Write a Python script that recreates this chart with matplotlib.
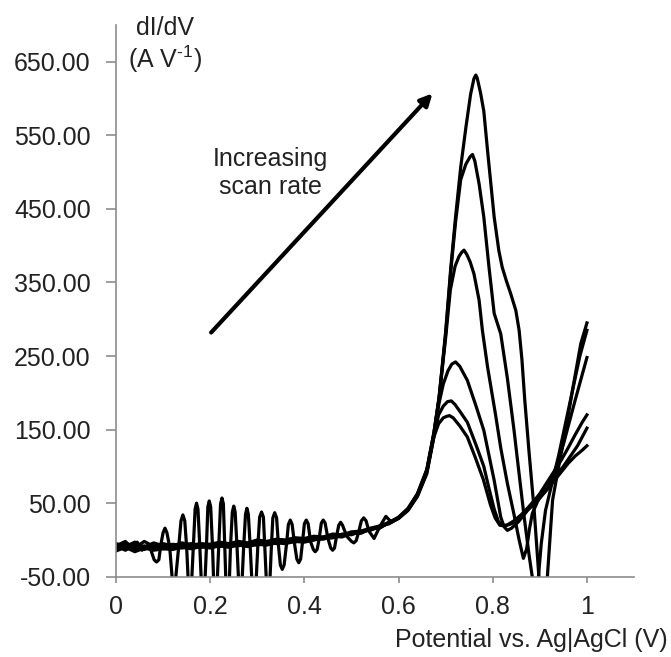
import numpy as np
import matplotlib
matplotlib.use("Agg")
import matplotlib.pyplot as plt
from matplotlib.ticker import FuncFormatter

plt.rcParams['font.family'] = ['Liberation Sans', 'DejaVu Sans']
plt.rcParams['axes.unicode_minus'] = False
plt.rcParams['mathtext.fontset'] = 'custom'
plt.rcParams['mathtext.rm'] = 'Liberation Sans'

# shared baseline grid (V)
x_base = [0.00, 0.02, 0.04, 0.06, 0.08, 0.10, 0.12, 0.14, 0.16, 0.18,
          0.20, 0.22, 0.24, 0.26, 0.28, 0.30, 0.32, 0.34, 0.36, 0.38,
          0.40, 0.42, 0.44, 0.46, 0.48, 0.50, 0.52, 0.54, 0.56, 0.58]

base_c1 = [-12, -6, -14, -8, -13, -9, -12, -8, -11, -9, -10, -7, -9, -6, -8,
           -5, -6, -3, -4, -1, -2, 2, 1, 5, 4, 9, 10, 15, 17, 23]
base_c2 = [-8, -14, -7, -13, -8, -12, -9, -11, -8, -10, -7, -9, -6, -8, -5,
           -7, -3, -5, -1, -3, 1, 0, 4, 3, 8, 7, 12, 13, 19, 22]
base_c3 = [-5, -9, -3, -10, -4, -8, -6, -7, -5, -8, -6, -5, -7, -4, -5,
           -3, -4, -1, -2, 1, 0, 3, 2, 6, 5, 10, 9, 15, 16, 24]
base_c4 = [-15, -10, -16, -11, -14, -12, -13, -10, -12, -9, -11, -8, -10, -7, -9,
           -6, -7, -4, -5, -2, -3, 0, 2, 3, 6, 8, 11, 14, 18, 23]
base_c5 = [-10, -3, -11, -2, -9, -5, -8, -4, -7, -5, -6, -3, -5, -2, -4,
           0, -2, 1, 0, 3, 2, 5, 4, 8, 7, 11, 12, 16, 19, 24]

# noisy low-potential part of the slowest scan
x_osc = [0.00, 0.02, 0.03, 0.045, 0.055, 0.07,
         0.081, 0.086, 0.091, 0.095, 0.100, 0.104, 0.108, 0.114,
         0.119, 0.123, 0.127, 0.133, 0.138, 0.142, 0.146, 0.150,
         0.154, 0.157, 0.160, 0.164, 0.168, 0.171, 0.174, 0.178,
         0.182, 0.185, 0.188, 0.192, 0.195, 0.198, 0.201, 0.205,
         0.208, 0.211, 0.214, 0.218, 0.222, 0.225, 0.228, 0.231,
         0.234, 0.237, 0.240, 0.243, 0.247, 0.250, 0.253, 0.257,
         0.261, 0.264, 0.267, 0.271, 0.275, 0.278, 0.281, 0.285,
         0.289, 0.293, 0.297, 0.301, 0.305, 0.309, 0.313, 0.316,
         0.319, 0.323, 0.327, 0.330, 0.333, 0.337, 0.341, 0.345,
         0.349, 0.353, 0.357, 0.362, 0.366, 0.370, 0.374, 0.379,
         0.384, 0.388, 0.392, 0.396, 0.400, 0.404, 0.408, 0.413,
         0.419, 0.423, 0.427, 0.431, 0.436, 0.440, 0.444, 0.450,
         0.456, 0.460, 0.464, 0.468, 0.473, 0.477, 0.481, 0.490,
         0.500, 0.505, 0.510, 0.515, 0.521, 0.526, 0.531, 0.537,
         0.548, 0.560, 0.573, 0.585]
y_osc = [-8, -2, -12, -3, -14, -6,
         -27, -30, -27, -7, 10, 16, 10, -10,
         -50, -60, -50, -10, 26, 34, 26, -10,
         -65, -75, -65, -10, 42, 50, 42, -10,
         -70, -80, -70, -10, 45, 53, 45, -10,
         -70, -80, -70, -10, 49, 57, 49, -10,
         -70, -80, -70, -10, 38, 46, 38, -10,
         -65, -75, -65, -10, 35, 43, 35, -10,
         -62, -70, -62, -10, 31, 38, 31, -10,
         -52, -60, -52, -8, 30, 37, 30, -8,
         -34, -40, -34, -6, 21, 27, 21, -5,
         -26, -31, -26, -3, 22, 27, 22, -2,
         -13, -16, -13, 0, 23, 27, 23, 2,
         -11, -14, -11, 4, 20, 24, 20, 5,
         -2, -4, -1, 10, 26, 30, 26, 12,
         2, 18, 32, 24]

# peak region of each scan
x_c1 = [0.60, 0.62, 0.64, 0.66, 0.675, 0.686, 0.70, 0.711, 0.721, 0.732, 0.743,
        0.753, 0.760, 0.764, 0.767, 0.774, 0.781, 0.789, 0.796, 0.803, 0.813,
        0.820, 0.829, 0.838, 0.849, 0.856, 0.862, 0.868, 0.877, 0.888, 0.898,
        0.905, 0.911, 0.916, 0.927, 0.94, 0.955, 0.97, 0.987, 1.0]
y_c1 = [30, 42, 62, 95, 145, 194, 283, 371, 439, 507, 561,
        606, 627, 632, 628, 608, 583, 529, 484, 439, 393,
        371, 352, 335, 312, 285, 245, 190, 120, 40, -50,
        -80, -75, -50, 54, 100, 150, 206, 267, 295]

x_c2 = [0.60, 0.62, 0.64, 0.66, 0.675, 0.686, 0.70, 0.711, 0.721, 0.732, 0.743,
        0.752, 0.757, 0.762, 0.771, 0.781, 0.792, 0.803, 0.817, 0.831, 0.845,
        0.855, 0.866, 0.877, 0.885, 0.891, 0.897, 0.903, 0.912, 0.925, 0.94,
        0.955, 0.97, 0.985, 1.0]
y_c2 = [30, 42, 61, 94, 144, 192, 280, 366, 432, 490, 511,
        521, 524, 515, 484, 439, 371, 308, 280, 220, 150,
        95, 35, -20, -55, -65, -50, -5, 40, 75, 115,
        160, 205, 250, 285]

x_c3 = [0.60, 0.62, 0.64, 0.66, 0.675, 0.686, 0.70, 0.71, 0.72, 0.728, 0.734,
        0.739, 0.745, 0.752, 0.760, 0.771, 0.778, 0.789, 0.806, 0.817, 0.831,
        0.845, 0.856, 0.865, 0.872, 0.878, 0.884, 0.895, 0.91, 0.93, 0.95,
        0.975, 1.0]
y_c3 = [31, 43, 63, 96, 146, 193, 275, 340, 372, 385, 391,
        394, 388, 378, 362, 326, 285, 235, 170, 125, 77,
        35, 0, -25, -12, 15, 36, 52, 68, 90, 130,
        190, 248]

x_c4 = [0.60, 0.62, 0.64, 0.66, 0.675, 0.686, 0.695, 0.705, 0.713, 0.721, 0.73,
        0.746, 0.764, 0.781, 0.792, 0.803, 0.817, 0.824, 0.831, 0.84, 0.855,
        0.87, 0.885, 0.90, 0.915, 0.93, 0.945, 0.96, 0.975, 0.99, 1.0]
y_c4 = [30, 41, 61, 93, 142, 186, 212, 230, 239, 242, 236,
        217, 183, 149, 115, 81, 31, 18, 13, 16, 25,
        37, 50, 63, 78, 93, 108, 125, 143, 160, 170]

x_c5 = [0.60, 0.62, 0.64, 0.66, 0.675, 0.685, 0.695, 0.704, 0.712, 0.72, 0.73,
        0.746, 0.764, 0.781, 0.792, 0.803, 0.812, 0.82, 0.83, 0.845, 0.86,
        0.875, 0.89, 0.905, 0.92, 0.935, 0.95, 0.965, 0.98, 1.0]
y_c5 = [30, 41, 60, 92, 140, 170, 182, 188, 189, 184, 175,
        160, 130, 100, 70, 42, 25, 20, 20, 26, 34,
        44, 55, 65, 76, 88, 100, 114, 128, 152]

x_c6 = [0.60, 0.62, 0.64, 0.66, 0.675, 0.685, 0.695, 0.702, 0.708, 0.716, 0.73,
        0.746, 0.763, 0.78, 0.795, 0.805, 0.815, 0.825, 0.84, 0.855, 0.87,
        0.885, 0.90, 0.915, 0.93, 0.945, 0.96, 0.975, 0.99, 1.0]
y_c6 = [29, 40, 59, 90, 140, 158, 166, 168, 169, 166, 155,
        140, 112, 82, 48, 30, 20, 19, 22, 30, 38,
        47, 57, 68, 80, 92, 104, 114, 122, 128]

y_ticks = [-50, 50, 150, 250, 350, 450, 550, 650]
x_ticks = [0, 0.2, 0.4, 0.6, 0.8, 1.0]

fig = plt.figure(figsize=(6.71, 6.57), dpi=100)
ax = fig.add_axes([0.1729, 0.1222, 0.7720, 0.8397])

curves = [
    (x_base + x_c1, base_c1 + y_c1),
    (x_base + x_c2, base_c2 + y_c2),
    (x_base + x_c3, base_c3 + y_c3),
    (x_base + x_c4, base_c4 + y_c4),
    (x_base + x_c5, base_c5 + y_c5),
    (x_osc + x_c6, y_osc + y_c6),
]
for xs, ys in curves:
    ax.plot(xs, ys, color='black', lw=2.3, solid_joinstyle='round')

ax.set_xlim(0, 1.1)
ax.set_ylim(-50, 700)
ax.set_yticks(y_ticks)
ax.set_xticks(x_ticks)
ax.yaxis.set_major_formatter(FuncFormatter(lambda v, p: '%.2f' % v))
ax.xaxis.set_major_formatter(FuncFormatter(lambda v, p: '%g' % v))

for s in ['top', 'right']:
    ax.spines[s].set_visible(False)
for s in ['left', 'bottom']:
    ax.spines[s].set_color('#8c8c8c')
    ax.spines[s].set_linewidth(1.2)
ax.tick_params(axis='y', direction='out', length=7.2, width=1.2, color='#8c8c8c',
               pad=11, labelsize=18, labelcolor='#222222')
ax.tick_params(axis='x', direction='out', length=4.5, width=1.2, color='#8c8c8c',
               pad=9, labelsize=18, labelcolor='#222222')

# arrow + annotation
ax.annotate('', xy=(0.672, 607), xytext=(0.202, 282),
            arrowprops=dict(arrowstyle='-|>,head_length=0.7,head_width=0.35',
                            lw=3, color='black', shrinkA=0, shrinkB=0))
ax.text(0.328, 499, 'Increasing\nscan rate', ha='center', va='center',
        fontsize=18, color='#222222', linespacing=1.2)

fig.text(165 / 671, 1 - 28 / 657, 'dI/dV', ha='center', va='center',
         fontsize=18, color='#222222')
fig.text(165 / 671, 1 - 59 / 657, r'(A V$^{\text{-}\mathregular{1}}$)', ha='center',
         va='center', fontsize=18, color='#222222')
fig.text(668 / 671, 1 - 640 / 657, 'Potential vs. Ag|AgCl (V)', ha='right',
         va='center', fontsize=18, color='#222222')

fig.savefig('out.png', dpi=100)
